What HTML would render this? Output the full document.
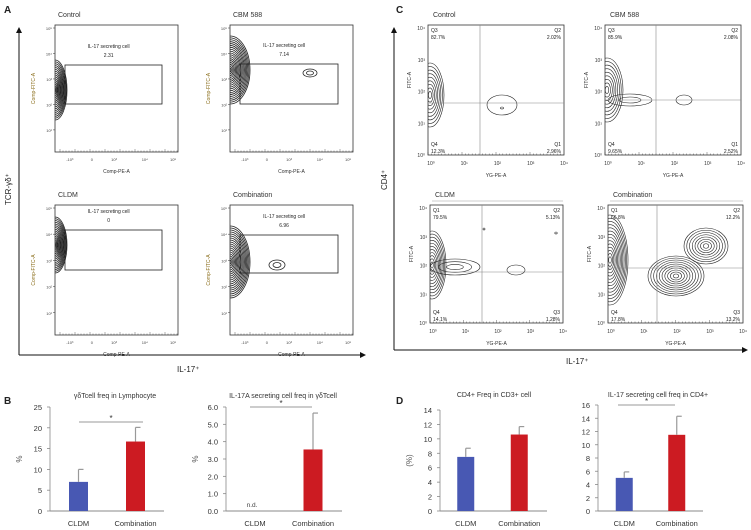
<!DOCTYPE html>
<html><head><meta charset="utf-8"><style>
body{margin:0;background:#fff}
svg{display:block;font-family:"Liberation Sans",sans-serif}
</style></head><body>
<svg id="fig" width="751" height="530" viewBox="0 0 751 530" xmlns="http://www.w3.org/2000/svg">
<g id="static"></g>
<g id="bars"></g>
</svg>
<script>
// ---- bar chart data ----
const categories = ["CLDM", "Combination"];
const gdFreqValues = [7.0, 16.7];
const gdFreqErrors = [3.0, 3.4];
const il17gdValues = [0, 3.55];
const il17gdErrors = [0, 2.1];
const cd4FreqValues = [7.5, 10.6];
const cd4FreqErrors = [1.2, 1.1];
const il17cd4Values = [5.0, 11.5];
const il17cd4Errors = [0.9, 2.8];
const gdTicks = ["0","5","10","15","20","25"];
const il17gdTicks = ["0.0","1.0","2.0","3.0","4.0","5.0","6.0"];
const cd4Ticks = ["0","2","4","6","8","10","12","14"];
const il17cd4Ticks = ["0","2","4","6","8","10","12","14","16"];

const NS="http://www.w3.org/2000/svg";
function mk(parent,tag,attrs,txt){const e=document.createElementNS(NS,tag);for(const k in attrs)e.setAttribute(k,attrs[k]);if(txt!==undefined)e.textContent=txt;parent.appendChild(e);return e;}
const S=document.getElementById('static');
const B=document.getElementById('bars');

function label(x,y,t,size,name,extra){const e=mk(S,'text',Object.assign({x:x,y:y,'font-size':size,fill:'#222'},extra||{}),t);return e;}
label(4,13,'A',10,'panel-a-label',{'font-weight':'bold'});
label(396,13,'C',10,'panel-c-label',{'font-weight':'bold'});
label(4,404,'B',10,'panel-b-label',{'font-weight':'bold'});
label(396,404,'D',10,'panel-d-label',{'font-weight':'bold'});
function arrows(x,yTop,yBot,xRight,name){
  const g=mk(S,'g',{});
  
  
  mk(g,'line',{x1:x,y1:yTop+5,x2:x,y2:yBot,stroke:'#111','stroke-width':1});
  mk(g,'polygon',{points:`${x-3},${yTop+6} ${x+3},${yTop+6} ${x},${yTop}`,fill:'#111'});
  mk(g,'line',{x1:x,y1:yBot,x2:xRight-5,y2:yBot,stroke:'#111','stroke-width':1});
  mk(g,'polygon',{points:`${xRight-6},${yBot-3} ${xRight-6},${yBot+3} ${xRight},${yBot}`,fill:'#111'});
}
arrows(19,27,355,366,'panel-a-axes-arrows');
arrows(394,27,350,748,'panel-c-axes-arrows');
label(11,205,'TCR-γδ⁺',8,'panel-a-y-title',{transform:'rotate(-90 11 205)'});
label(177,372,'IL-17⁺',8,'panel-a-x-title');
label(387,190,'CD4⁺',8,'panel-c-y-title',{transform:'rotate(-90 387 190)'});
label(566,364,'IL-17⁺',8,'panel-c-x-title');

function contours(g,cx,cy,rx,ry,n,sw){
  for(let i=1;i<=n;i++){
    const f=i/n;
    mk(g,'ellipse',{cx:cx,cy:cy,rx:rx*f,ry:ry*f,fill:'none',stroke:'#222','stroke-width':sw||0.6});
  }
}
function flowA(x0,y0,w,h,title,gate,gateText,val,blobs,name){
  const g=mk(S,'g',{});
  
  
  mk(g,'text',{x:x0+3,y:y0-8,'font-size':7,fill:'#333'},title);
  const clip='c'+name;
  const cp=mk(g,'clipPath',{id:clip});mk(cp,'rect',{x:x0,y:y0,width:w,height:h});
  const inner=mk(g,'g',{'clip-path':`url(#${clip})`});
  blobs.forEach(b=>contours(inner,b[0],b[1],b[2],b[3],b[4],0.8));
  mk(g,'rect',{x:x0,y:y0,width:w,height:h,fill:'none',stroke:'#333','stroke-width':0.8});
  mk(g,'rect',{x:gate[0],y:gate[1],width:gate[2],height:gate[3],fill:'none',stroke:'#222','stroke-width':0.8});
  mk(g,'text',{x:gate[0]+gate[2]*0.45,y:gate[1]-17,'font-size':5,'text-anchor':'middle',fill:'#222'},gateText);
  mk(g,'text',{x:gate[0]+gate[2]*0.45,y:gate[1]-8,'font-size':5,'text-anchor':'middle',fill:'#222'},val);
  const ys=['10⁵','10⁴','10³','10²','10¹'];
  ys.forEach((t,i)=>{const yy=y0+3+i*(h-20)/4.2;mk(g,'text',{x:x0-3,y:yy+2,'font-size':4,'text-anchor':'end',fill:'#444'},t);mk(g,'line',{x1:x0-2,y1:yy,x2:x0,y2:yy,stroke:'#333','stroke-width':0.5});});
  const xs=['-10³','0','10³','10⁴','10⁵'];const xp=[0.12,0.3,0.48,0.73,0.96];
  xs.forEach((t,i)=>mk(g,'text',{x:x0+w*xp[i],y:y0+h+9,'font-size':4,'text-anchor':'middle',fill:'#444'},t));
  for(let i=0;i<40;i++){mk(g,'line',{x1:x0+5+i*w/41,y1:y0+h,x2:x0+5+i*w/41,y2:y0+h-(i%5==0?3:1.5),stroke:'#333','stroke-width':0.4});}
  mk(g,'text',{x:x0+w*0.5,y:y0+h+21,'font-size':5,'text-anchor':'middle',fill:'#333'},'Comp-PE-A');
  mk(g,'text',{x:x0-20,y:y0+h/2,'font-size':5,'text-anchor':'middle',fill:'#8a6d1a',transform:`rotate(-90 ${x0-20} ${y0+h/2})`},'Comp-FITC-A');
}
flowA(55,25,123,127,'Control',[65,65,97,39],'IL-17 secreting cell','2.31',[[55,90,12,30,16]],'flow-a-control');
flowA(230,25,123,127,'CBM 588',[240,64,98,40],'IL-17 secreting cell','7.14',[[230,70,20,34,18],[310,73,7,4,2]],'flow-a-cbm588');
flowA(55,205,123,130,'CLDM',[65,230,97,40],'IL-17 secreting cell','0',[[55,245,12,28,16]],'flow-a-cldm');
flowA(230,205,123,130,'Combination',[240,235,98,38],'IL-17 secreting cell','6.96',[[230,262,20,36,18],[277,265,8,5,2]],'flow-a-combination');

function flowC(x0,y0,w,h,vx,hy,title,q,blobs,name){
  const g=mk(S,'g',{});
  
  
  mk(g,'text',{x:x0+5,y:y0-8,'font-size':7,fill:'#333'},title);
  if(title==='CLDM'||title==='Combination')mk(g,'line',{x1:x0+2,y1:y0-4,x2:x0+w,y2:y0-4,stroke:'#999','stroke-width':0.5});
  const clip='c'+name;
  const cp=mk(g,'clipPath',{id:clip});mk(cp,'rect',{x:x0,y:y0,width:w,height:h});
  const inner=mk(g,'g',{'clip-path':`url(#${clip})`});
  blobs.forEach(b=>contours(inner,b[0],b[1],b[2],b[3],b[4]));
  mk(g,'rect',{x:x0,y:y0,width:w,height:h,fill:'none',stroke:'#333','stroke-width':0.8});
  mk(g,'line',{x1:vx,y1:y0,x2:vx,y2:y0+h,stroke:'#888','stroke-width':0.6});
  mk(g,'line',{x1:x0,y1:hy,x2:x0+w,y2:hy,stroke:'#888','stroke-width':0.6});
  const fs=5;
  mk(g,'text',{x:x0+3,y:y0+7,'font-size':fs,fill:'#222'},q[0]);mk(g,'text',{x:x0+3,y:y0+14,'font-size':fs,fill:'#222'},q[1]);
  mk(g,'text',{x:x0+w-3,y:y0+7,'font-size':fs,'text-anchor':'end',fill:'#222'},q[2]);mk(g,'text',{x:x0+w-3,y:y0+14,'font-size':fs,'text-anchor':'end',fill:'#222'},q[3]);
  mk(g,'text',{x:x0+3,y:y0+h-9,'font-size':fs,fill:'#222'},q[4]);mk(g,'text',{x:x0+3,y:y0+h-2,'font-size':fs,fill:'#222'},q[5]);
  mk(g,'text',{x:x0+w-3,y:y0+h-9,'font-size':fs,'text-anchor':'end',fill:'#222'},q[6]);mk(g,'text',{x:x0+w-3,y:y0+h-2,'font-size':fs,'text-anchor':'end',fill:'#222'},q[7]);
  for(let i=0;i<5;i++){const yy=y0+3+i*(h-3)/4;mk(g,'text',{x:x0-3,y:yy+2,'font-size':5,'text-anchor':'end',fill:'#333'},'10'+['⁴','³','²','¹','⁰'][i]);
    const xx=x0+3+i*(w-3)/4;mk(g,'text',{x:xx,y:y0+h+10,'font-size':5,'text-anchor':'middle',fill:'#333'},'10'+['⁰','¹','²','³','⁴'][i]);}
  for(let i=0;i<40;i++){mk(g,'line',{x1:x0+i*w/40,y1:y0+h,x2:x0+i*w/40,y2:y0+h-(i%10==0?3:1.5),stroke:'#333','stroke-width':0.4});}
  mk(g,'text',{x:x0+w/2,y:y0+h+22,'font-size':5,'text-anchor':'middle',fill:'#333'},'YG-PE-A');
  mk(g,'text',{x:x0-17,y:y0+h/2-10,'font-size':5,'text-anchor':'middle',fill:'#333',transform:`rotate(-90 ${x0-17} ${y0+h/2-10})`},'FITC-A');
}
flowC(428,25,136,130,480,103,'Control',['Q3','82.7%','Q2','2.02%','Q4','12.3%','Q1','2.96%'],[[430,95,14,32,9],[502,105,15,10,1],[502,108,1.5,1,1]],'flow-c-control');
flowC(605,25,136,130,656,100,'CBM 588',['Q3','85.9%','Q2','2.08%','Q4','9.65%','Q1','2.52%'],[[607,90,16,32,9],[630,100,22,6,2],[684,100,8,5,1]],'flow-c-cbm588');
flowC(430,205,133,118,482,272,'CLDM',['Q1','79.5%','Q2','5.13%','Q4','14.1%','Q3','1.28%'],[[432,265,14,34,11],[455,267,25,8,3],[516,270,9,5,1],[484,229,1,1,1],[556,233,1.2,1,1]],'flow-c-cldm');
flowC(608,205,135,118,657,268,'Combination',['Q1','66.8%','Q2','12.2%','Q4','17.8%','Q3','13.2%'],[[610,260,18,45,14],[676,276,28,20,10],[706,246,22,18,8]],'flow-c-combination');

function barChart(opt){
  const g=mk(B,'g',{});
  
  
  const n=opt.ticks.length-1, max=parseFloat(opt.ticks[n]);
  const yS=v=>opt.y0-(v/max)*(opt.y0-opt.yTop);
  mk(g,'text',{x:opt.titleX,y:opt.titleY,'font-size':7,'text-anchor':'middle',fill:'#333'},opt.title);
  opt.ticks.forEach(t=>{const yy=yS(parseFloat(t));
    const tl=mk(g,'text',{x:opt.x0-8,y:yy+3,'font-size':7.5,'text-anchor':'end',fill:'#333'},t);
    
    
    mk(g,'line',{x1:opt.x0-3,y1:yy,x2:opt.x0,y2:yy,stroke:'#888','stroke-width':0.8});});
  mk(g,'line',{x1:opt.x0,y1:opt.yTop,x2:opt.x0,y2:opt.y0,stroke:'#888','stroke-width':0.8});
  mk(g,'line',{x1:opt.x0,y1:opt.y0,x2:opt.xEnd,y2:opt.y0,stroke:'#888','stroke-width':1});
  const yl=mk(g,'text',{x:opt.x0-28,y:(opt.y0+opt.yTop)/2,'font-size':8,'text-anchor':'middle',fill:'#555',transform:`rotate(-90 ${opt.x0-28} ${(opt.y0+opt.yTop)/2})`},opt.ylab);
  
  
  const colors=['#4858b3','#cc1b22'];
  const band=(opt.xEnd-opt.x0)/categories.length;
  categories.forEach((c,i)=>{
    const cx=opt.x0+band*(i+0.5)+opt.shift;
    const v=opt.values[i], e=opt.errors[i];
    if(v>0){
      const r=mk(g,'rect',{x:cx-opt.bw/2,y:yS(v),width:opt.bw,height:opt.y0-yS(v),fill:colors[i]});
      
      
      mk(g,'line',{x1:cx,y1:yS(v),x2:cx,y2:yS(v+e),stroke:'#999','stroke-width':1.2});
      mk(g,'line',{x1:cx,y1:yS(v+e),x2:cx+5,y2:yS(v+e),stroke:'#999','stroke-width':1.2});
    } else {
      mk(g,'text',{x:cx-3,y:opt.y0-4,'font-size':6.5,'text-anchor':'middle',fill:'#444'},'n.d.');
    }
    const xl=mk(g,'text',{x:cx,y:opt.y0+15,'font-size':7.5,'text-anchor':'middle',fill:'#333'},c);
    
    
  });
  if(opt.sig){
    mk(g,'line',{x1:opt.sig[0],y1:opt.sig[2],x2:opt.sig[1],y2:opt.sig[2],stroke:'#777','stroke-width':0.8});
    mk(g,'text',{x:(opt.sig[0]+opt.sig[1])/2,y:opt.sig[2]-1,'font-size':8,'text-anchor':'middle',fill:'#333'},'*');
  }
}
barChart({name:'chart-gd-freq',title:'γδTcell freq in Lymphocyte',titleX:115,titleY:398,x0:50,xEnd:164,y0:511,yTop:407,ticks:gdTicks,values:gdFreqValues,errors:gdFreqErrors,ylab:'%',bw:19,shift:0,sig:[79,143,422]});
barChart({name:'chart-il17-gd',title:'IL-17A secreting cell freq in γδTcell',titleX:283,titleY:398,x0:226,xEnd:342,y0:511,yTop:407,ticks:il17gdTicks,values:il17gdValues,errors:il17gdErrors,ylab:'%',bw:19,shift:0,sig:[250,312,407]});
barChart({name:'chart-cd4-freq',title:'CD4+ Freq in CD3+ cell',titleX:494,titleY:397,x0:440,xEnd:547,y0:511,yTop:410,ticks:cd4Ticks,values:cd4FreqValues,errors:cd4FreqErrors,ylab:'(%)',bw:17,shift:-1,sig:null});
barChart({name:'chart-il17-cd4',title:'IL-17 secreting cell freq in CD4+',titleX:658,titleY:397,x0:598,xEnd:703,y0:511,yTop:405,ticks:il17cd4Ticks,values:il17cd4Values,errors:il17cd4Errors,ylab:'',bw:17,shift:0,sig:[618,675,405]});
</script>
</body></html>
